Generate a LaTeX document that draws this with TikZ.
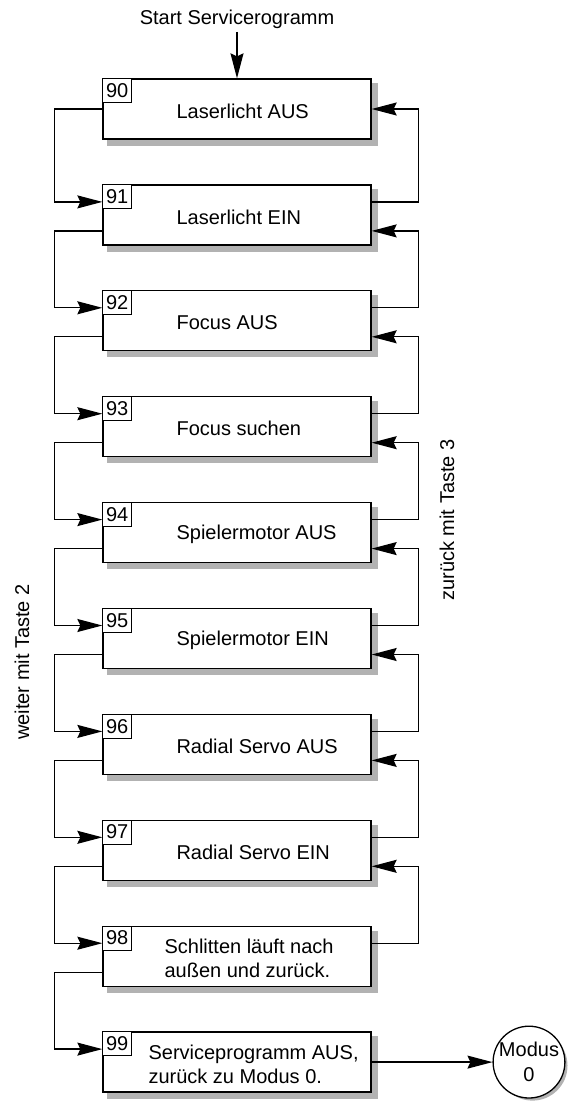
\documentclass[tikz,border=0pt]{standalone}
\usepackage{fontspec}
\setmainfont{Liberation Sans}
\usetikzlibrary{arrows.meta,positioning,calc,backgrounds}
\definecolor{boxshade}{gray}{0.7}

\begin{document}
\begin{tikzpicture}[x=1pt,y=-1pt,
  every node/.style={font=\fontsize{20}{24}\selectfont},
  box/.style={draw,line width=1.3pt,fill=white,minimum width=268pt,minimum height=60pt,inner sep=0pt},
  tag/.style={draw,line width=0.8pt,fill=white,minimum width=29pt,minimum height=24pt,inner sep=0pt,anchor=north west},
  txt/.style={anchor=west,align=left,inner sep=0pt},
  ar/.style={-{Stealth[length=25pt,width=13pt,inset=3pt]},line width=1.3pt}
]
\useasboundingbox (0,0) rectangle (569,1102);

\node (start) at (237,19) {Start Servicerogramm};

% boxes
\node[box] (b90) at (237,109.0) {};
\node[box] (b91) at (237,214.9) {};
\node[box] (b92) at (237,320.8) {};
\node[box] (b93) at (237,426.7) {};
\node[box] (b94) at (237,532.6) {};
\node[box] (b95) at (237,638.5) {};
\node[box] (b96) at (237,744.4) {};
\node[box] (b97) at (237,850.3) {};
\node[box] (b98) at (237,956.2) {};
\node[box] (b99) at (237,1062.1) {};

\node[tag] (t90) at (b90.north west) {90};
\node[tag] (t91) at (b91.north west) {91};
\node[tag] (t92) at (b92.north west) {92};
\node[tag] (t93) at (b93.north west) {93};
\node[tag] (t94) at (b94.north west) {94};
\node[tag] (t95) at (b95.north west) {95};
\node[tag] (t96) at (b96.north west) {96};
\node[tag] (t97) at (b97.north west) {97};
\node[tag] (t98) at (b98.north west) {98};
\node[tag] (t99) at (b99.north west) {99};

\node[txt] (l90) at ($(b90.west)+(74,2)$) {Laserlicht AUS};
\node[txt] (l91) at ($(b91.west)+(74,2)$) {Laserlicht EIN};
\node[txt] (l92) at ($(b92.west)+(74,2)$) {Focus AUS};
\node[txt] (l93) at ($(b93.west)+(74,2)$) {Focus suchen};
\node[txt] (l94) at ($(b94.west)+(74,2)$) {Spielermotor AUS};
\node[txt] (l95) at ($(b95.west)+(74,2)$) {Spielermotor EIN};
\node[txt] (l96) at ($(b96.west)+(74,2)$) {Radial Servo AUS};
\node[txt] (l97) at ($(b97.west)+(74,2)$) {Radial Servo EIN};
\node[txt] (l98) at ($(b98.west)+(62,2)$) {Schlitten läuft nach\\außen und zurück.};
\node[txt] (l99) at ($(b99.west)+(46,2)$) {Serviceprogramm AUS,\\zurück zu Modus 0.};

\node[draw,circle,line width=1.3pt,fill=white,minimum size=68pt,inner sep=0pt,align=center] (modus) at (529,1062.1) {Modus\\[1pt]0};

% shadows
\begin{scope}[on background layer]
\foreach \b in {90,...,99}
  \fill[boxshade] ($(b\b.south west)+(5,6)$) rectangle ($(b\b.north east)+(6,5)$);
\fill[boxshade] ($(modus.center)+(3.5,3.5)$) circle (35);
\end{scope}

\node[rotate=90] (weiter) at (22,662) {weiter mit Taste 2};
\node[rotate=90] (zurueck) at (447,520) {zurück mit Taste 3};

\draw[ar] (start) -- (b90.north);

% weiter mit Taste 2
\draw[ar] (b90.west) -- ++(-48,0) |- ($(b91.west)+(0,-13)$);
\draw[ar] ($(b91.west)+(0,16)$) -- ++(-48,0) |- ($(b92.west)+(0,-13)$);
\draw[ar] ($(b92.west)+(0,16)$) -- ++(-48,0) |- ($(b93.west)+(0,-13)$);
\draw[ar] ($(b93.west)+(0,16)$) -- ++(-48,0) |- ($(b94.west)+(0,-13)$);
\draw[ar] ($(b94.west)+(0,16)$) -- ++(-48,0) |- ($(b95.west)+(0,-13)$);
\draw[ar] ($(b95.west)+(0,16)$) -- ++(-48,0) |- ($(b96.west)+(0,-13)$);
\draw[ar] ($(b96.west)+(0,16)$) -- ++(-48,0) |- ($(b97.west)+(0,-13)$);
\draw[ar] ($(b97.west)+(0,16)$) -- ++(-48,0) |- ($(b98.west)+(0,-13)$);
\draw[ar] ($(b98.west)+(0,16)$) -- ++(-48,0) |- ($(b99.west)+(0,-13)$);

% zurueck mit Taste 3
\draw[ar] ($(b91.east)+(0,-13)$) -- ++(47,0) |- (b90.east);
\draw[ar] ($(b92.east)+(0,-13)$) -- ++(47,0) |- ($(b91.east)+(0,16)$);
\draw[ar] ($(b93.east)+(0,-13)$) -- ++(47,0) |- ($(b92.east)+(0,16)$);
\draw[ar] ($(b94.east)+(0,-13)$) -- ++(47,0) |- ($(b93.east)+(0,16)$);
\draw[ar] ($(b95.east)+(0,-13)$) -- ++(47,0) |- ($(b94.east)+(0,16)$);
\draw[ar] ($(b96.east)+(0,-13)$) -- ++(47,0) |- ($(b95.east)+(0,16)$);
\draw[ar] ($(b97.east)+(0,-13)$) -- ++(47,0) |- ($(b96.east)+(0,16)$);
\draw[ar] ($(b98.east)+(0,-13)$) -- ++(47,0) |- ($(b97.east)+(0,16)$);

\draw[ar] (b99.east) -- (modus);
\end{tikzpicture}
\end{document}
